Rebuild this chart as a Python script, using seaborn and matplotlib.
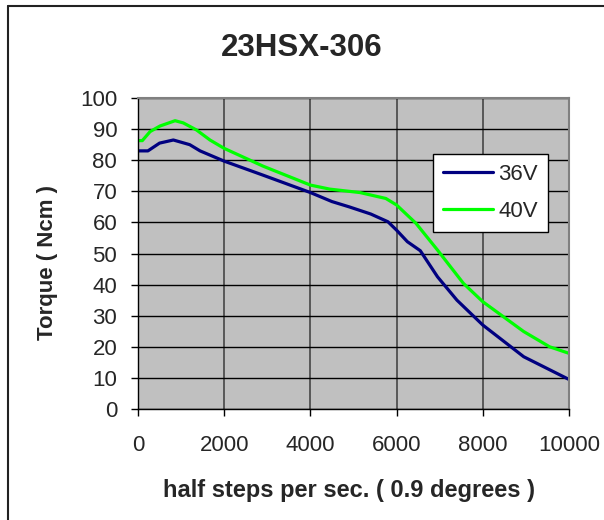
import pandas as pd
import matplotlib
matplotlib.use("Agg")
import matplotlib.pyplot as plt
import seaborn as sns

# Torque curves
speed_36 = [0, 230, 500, 820, 1200, 1440, 2000, 2900, 4000, 4500, 4900, 5400,
            5800, 6000, 6250, 6550, 6950, 7400, 8000, 8950, 10000]
torque_36 = [83, 83, 85.5, 86.5, 85, 83, 79.7, 75.2, 69.6, 66.7, 65, 62.7,
             60.2, 57.5, 53.8, 50.9, 42.5, 35, 27, 16.8, 9.5]

speed_40 = [0, 100, 280, 510, 860, 1050, 1360, 1670, 2000, 2900, 4000, 4450,
            5150, 5750, 6000, 6450, 6950, 7550, 8000, 8950, 9550, 10000]
torque_40 = [86.3, 86.3, 89.2, 91, 92.7, 92, 89.7, 86.5, 83.8, 78.1, 72, 70.7,
             69.6, 67.7, 65.6, 59.7, 51.1, 40.4, 34.5, 24.9, 20, 17.9]

x_ticks = [0, 2000, 4000, 6000, 8000, 10000]
y_ticks = list(range(0, 101, 10))

df = pd.concat([
    pd.DataFrame({"speed": speed_36, "torque": torque_36, "voltage": "36V"}),
    pd.DataFrame({"speed": speed_40, "torque": torque_40, "voltage": "40V"}),
])

sns.set_style("white")
plt.rcParams["font.family"] = ["Liberation Sans", "DejaVu Sans"]

fig = plt.figure(figsize=(6.04, 5.2), dpi=100)
ax = fig.add_axes([0.2285, 0.2135, 0.7135, 0.598])

sns.lineplot(data=df, x="speed", y="torque", hue="voltage",
             palette={"36V": "#000080", "40V": "#00FF00"},
             linewidth=2.3, sort=False, estimator=None, ax=ax)

ax.set_facecolor("#C0C0C0")
ax.set_xlim(0, 10000)
ax.set_ylim(0, 100)
ax.set_xticks(x_ticks)
ax.set_yticks(y_ticks)
ax.yaxis.grid(True, color="black", linewidth=1)
ax.xaxis.grid(True, color="#505050", linewidth=1.3)
ax.set_axisbelow(True)
ax.tick_params(labelsize=16, length=5, width=1, direction="out",
               bottom=True, left=True, color="black")
ax.tick_params(axis="x", pad=14)
ax.tick_params(axis="y", pad=10)
for s in ["top", "right"]:
    ax.spines[s].set_color("#808080")
    ax.spines[s].set_linewidth(1.5)
for s in ["left", "bottom"]:
    ax.spines[s].set_color("black")
    ax.spines[s].set_linewidth(1)

ax.set_xlabel("half steps per sec. ( 0.9 degrees )", fontsize=17, fontweight="bold", va="center")
ax.set_ylabel("Torque ( Ncm )", fontsize=16, fontweight="bold", va="center")
ax.xaxis.set_label_coords(0.49, -0.262)
ax.yaxis.set_label_coords(-0.211, 0.47)

fig.suptitle("23HSX-306", fontsize=22.5, fontweight="bold", x=0.5, y=0.908, va="center")

leg = ax.legend(loc="upper left", bbox_to_anchor=(0.684, 0.82), borderaxespad=0,
                fontsize=16, frameon=True, fancybox=False, handlelength=2.25,
                borderpad=0.45, labelspacing=0.72, handletextpad=0.25, title=None)
leg.get_frame().set_edgecolor("black")
leg.get_frame().set_facecolor("white")
leg.get_frame().set_alpha(1)
leg.get_frame().set_linewidth(1)

# outer chart border (left and top edges only visible)
fig.add_artist(plt.Line2D([8 / 604, 8 / 604], [0, 1 - 6 / 520], transform=fig.transFigure,
                          color="#222222", linewidth=1.5))
fig.add_artist(plt.Line2D([8 / 604, 1], [1 - 6 / 520, 1 - 6 / 520], transform=fig.transFigure,
                          color="#222222", linewidth=1.5))

fig.savefig("out.png", dpi=100)
